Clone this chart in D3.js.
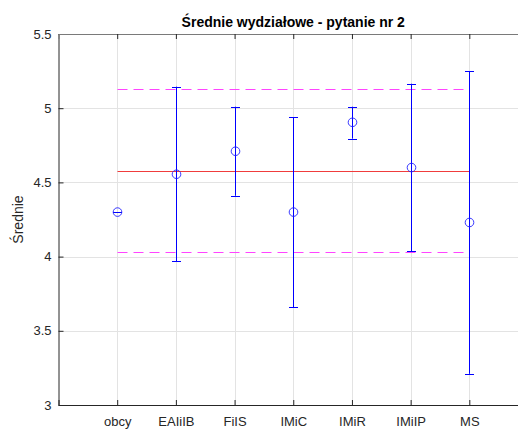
<!DOCTYPE html>
<html>
<head>
<meta charset="utf-8">
<script src="https://cdn.jsdelivr.net/npm/d3@7"></script>
<style>
  body { margin: 0; background: #fff; }
  text { font-family: "Liberation Sans", Arial, sans-serif; }
</style>
</head>
<body>
<svg width="518" height="429"></svg>
<script>
// data
var categories = ['obcy', 'EAIiIB', 'FiIS', 'IMiC', 'IMiR', 'IMiIP', 'MS'];
var means = [4.30, 4.555, 4.71, 4.30, 4.905, 4.60, 4.23];
var lows = [4.30, 3.97, 4.41, 3.66, 4.795, 4.035, 3.21];
var highs = [4.30, 5.145, 5.01, 4.94, 5.01, 5.165, 5.25];
var overallMean = 4.58;
var bandLow = 4.03;
var bandHigh = 5.13;
var yTicks = [3, 3.5, 4, 4.5, 5, 5.5];

var svg = d3.select('svg');
var plotLeft = 58.5, plotRight = 528, plotTop = 34, plotBottom = 405;

var x = d3.scaleLinear().domain([0, categories.length + 1]).range([plotLeft, plotRight]);
var y = d3.scaleLinear().domain([3, 5.5]).range([plotBottom, plotTop]);
var xPos = function (d, i) { return Math.round(x(i + 1)) + 0.5; };
var yPix = function (v) { return Math.round(y(v)) + 0.5; };

// grid
svg.append('g').selectAll('line').data(categories).enter().append('line')
    .attr('x1', xPos).attr('x2', xPos)
    .attr('y1', plotTop).attr('y2', plotBottom)
    .attr('stroke', '#e3e3e3').attr('stroke-width', 1);
svg.append('g').selectAll('line').data(yTicks).enter().append('line')
    .attr('x1', plotLeft).attr('x2', plotRight)
    .attr('y1', yPix).attr('y2', yPix)
    .attr('stroke', '#e3e3e3').attr('stroke-width', 1);

// reference lines
var x0 = xPos(null, 0), x1 = xPos(null, categories.length - 1);
svg.append('line')
    .attr('x1', x0).attr('x2', x1)
    .attr('y1', yPix(overallMean)).attr('y2', yPix(overallMean))
    .attr('stroke', '#f03c3c').attr('stroke-width', 1.1);
[bandHigh, bandLow].forEach(function (v) {
    svg.append('line')
        .attr('x1', x0).attr('x2', x1)
        .attr('y1', yPix(v)).attr('y2', yPix(v))
        .attr('stroke', '#ff44ff').attr('stroke-width', 1)
        .attr('stroke-dasharray', '10,6');
});

// axes
var yAxis = d3.axisLeft(y).tickValues(yTicks).tickSize(-5).tickPadding(7)
    .tickFormat(d3.format('~g'));
var gy = svg.append('g').attr('transform', 'translate(' + plotLeft + ',0)').call(yAxis);
var xAxis = d3.axisBottom(x).tickValues(d3.range(1, categories.length + 1)).tickSize(-5).tickPadding(12)
    .tickFormat(function (d) { return categories[d - 1]; });
var gx = svg.append('g').attr('transform', 'translate(0,' + plotBottom + ')').call(xAxis);
var xTop = d3.axisTop(x).tickValues(d3.range(1, categories.length + 1)).tickSize(-5).tickFormat('');
var gt = svg.append('g').attr('transform', 'translate(0,' + plotTop + ')').call(xTop);

[gx, gy].forEach(function (g) {
    g.selectAll('.domain').attr('stroke', '#262626');
    g.selectAll('.tick line').attr('stroke', '#262626');
    g.selectAll('text').attr('fill', '#262626').style('font-size', '13px')
        .style('font-family', '"Liberation Sans", Arial, sans-serif');
});
gt.selectAll('.domain').attr('stroke', '#7a7a7a');
gt.selectAll('.tick line').attr('stroke', '#262626');

// error bars
var bars = svg.append('g');
var cap = 4.5;
bars.selectAll('.eb').data(categories).enter().append('line')
    .attr('x1', xPos).attr('x2', xPos)
    .attr('y1', function (d, i) { return y(lows[i]); })
    .attr('y2', function (d, i) { return y(highs[i]); })
    .attr('stroke', '#0000ff').attr('stroke-width', 1);
[lows, highs].forEach(function (arr) {
    bars.append('g').selectAll('line').data(categories).enter().append('line')
        .attr('x1', function (d, i) { return xPos(d, i) - cap; })
        .attr('x2', function (d, i) { return xPos(d, i) + cap; })
        .attr('y1', function (d, i) { return yPix(arr[i]); })
        .attr('y2', function (d, i) { return yPix(arr[i]); })
        .attr('stroke', '#0000ff').attr('stroke-width', 1);
});
bars.append('g').selectAll('circle').data(categories).enter().append('circle')
    .attr('cx', xPos)
    .attr('cy', function (d, i) { return y(means[i]); })
    .attr('r', 4.3)
    .attr('fill', 'none').attr('stroke', '#2222ff').attr('stroke-width', 0.9);

// title and label
svg.append('text')
    .attr('x', (plotLeft + plotRight) / 2).attr('y', 27)
    .attr('text-anchor', 'middle')
    .style('font-size', '14px').style('font-weight', 'bold')
    .attr('fill', '#000')
    .text('Średnie wydziałowe - pytanie nr 2');
svg.append('text')
    .attr('transform', 'translate(23,' + (plotTop + plotBottom) / 2 + ') rotate(-90)')
    .attr('text-anchor', 'middle')
    .style('font-size', '14px')
    .attr('fill', '#262626')
    .text('Średnie');
</script>
</body>
</html>
